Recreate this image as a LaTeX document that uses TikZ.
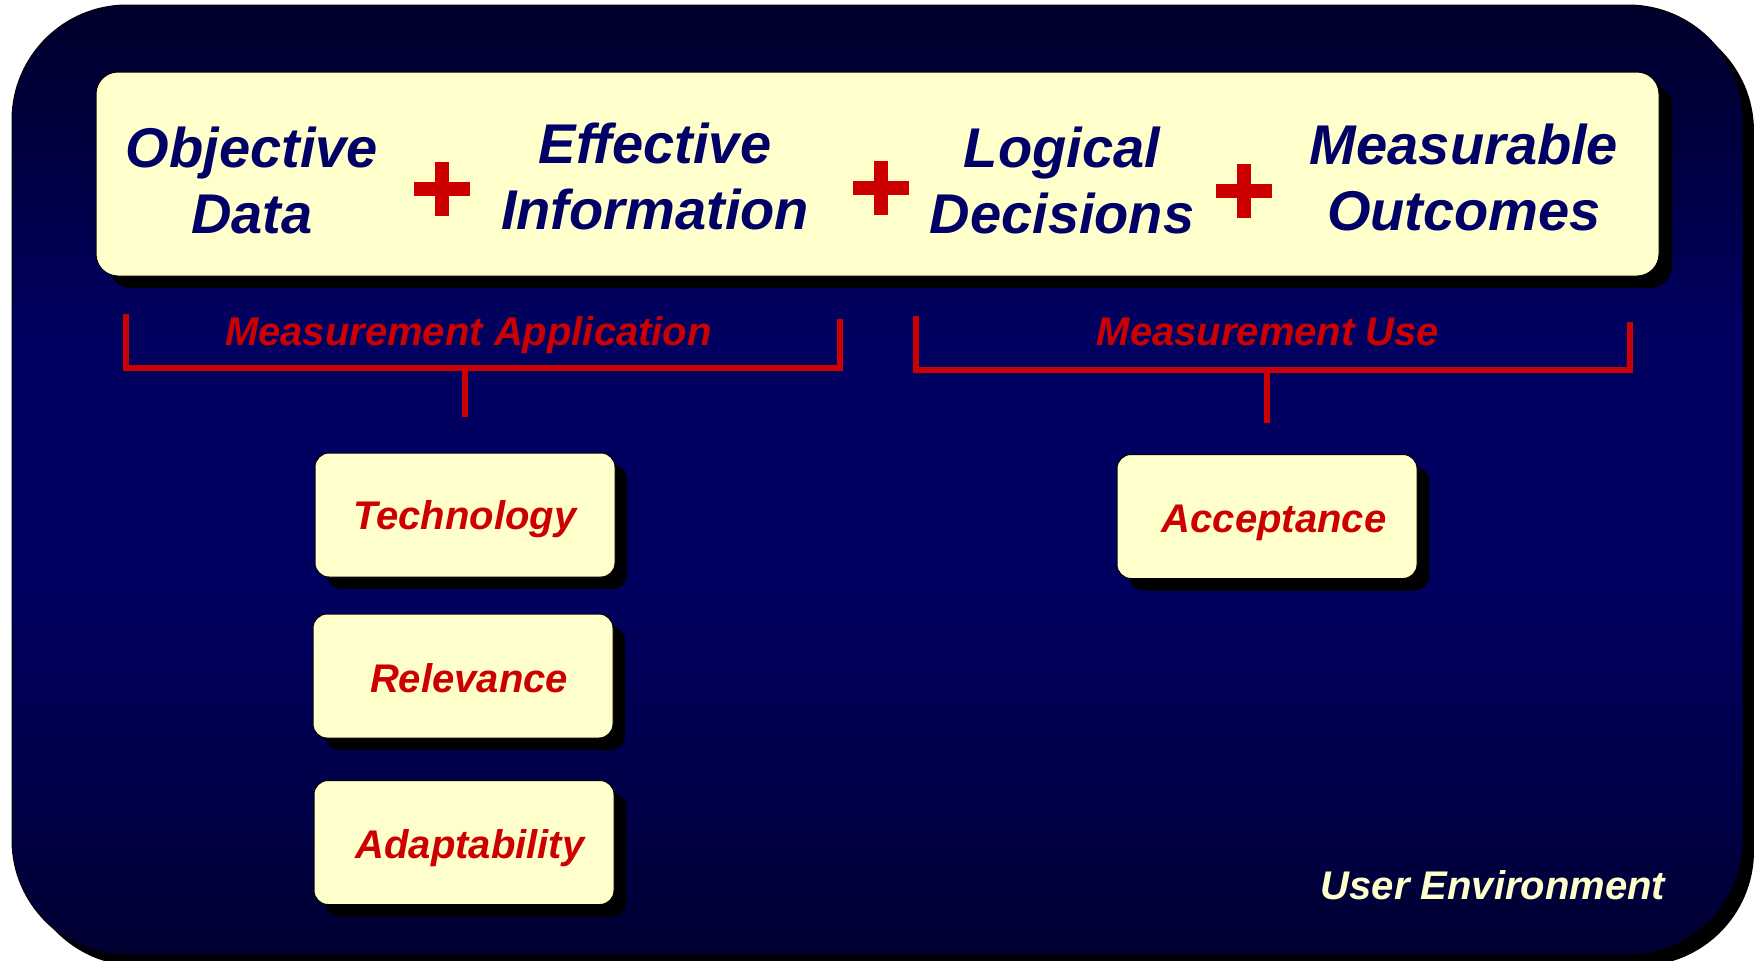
\documentclass[tikz,border=0pt]{standalone}
\usepackage{fontspec}
\setmainfont{Liberation Sans}
\usetikzlibrary{shadows}
\definecolor{navytext}{HTML}{000066}
\definecolor{redc}{HTML}{CC0000}
\definecolor{cream}{HTML}{FFFFCC}
\definecolor{bgA}{HTML}{000030}
\definecolor{bgB}{HTML}{000048}
\definecolor{bgC}{HTML}{000060}
\definecolor{bgD}{HTML}{000038}
\definecolor{bgE}{HTML}{00002C}
\pgfdeclareverticalshading{bgshade}{100bp}{color(0bp)=(bgA); color(25bp)=(bgA); color(33bp)=(bgB); color(44bp)=(bgC); color(58bp)=(bgC); color(70bp)=(bgD); color(75bp)=(bgE); color(100bp)=(bgE)}
\tikzset{
  bigtxt/.style={anchor=base, inner sep=0pt, text=navytext,
    font=\fontsize{56}{66.5}\selectfont\bfseries\itshape},
  midtxt/.style={anchor=base, inner sep=0pt, text=redc,
    font=\fontsize{40}{48}\selectfont\bfseries\itshape},
  envtxt/.style={anchor=base, inner sep=0pt, text=cream,
    font=\fontsize{40}{48}\selectfont\bfseries\itshape},
  smallbox/.style={draw=black, line width=1pt, fill=cream, rounded corners=14pt,
    minimum width=300pt, minimum height=124pt, inner sep=0pt,
    text height=29pt, text depth=0pt, text=redc,
    font=\fontsize{40}{48}\selectfont\bfseries\itshape,
    drop shadow={shadow xshift=12pt, shadow yshift=-12pt, fill=black, opacity=1}},
  bigbox/.style={draw=black, line width=1pt, fill=cream, rounded corners=22pt,
    minimum width=1563pt, minimum height=204pt, inner sep=0pt,
    drop shadow={shadow xshift=13pt, shadow yshift=-12pt, fill=black, opacity=1}},
  bracket/.style={draw=redc, line width=6pt, line join=miter},
  plussign/.pic={\fill[redc] (-28,-7) rectangle (28,7); \fill[redc] (-7,-27) rectangle (7,27);}
}
\begin{document}
\begin{tikzpicture}[x=1pt, y=-1pt]
\useasboundingbox (0,0) rectangle (1754,961);
% outer environment with shadow
\fill[black, rounded corners=115pt] (23,16) rectangle (1754,966);
\path[draw=black, line width=1pt, shading=bgshade, rounded corners=115pt] (12,5) rectangle (1743,955);

% top box
\node[bigbox] (topbox) at (877.5,174) {};
\node[bigtxt] (objdata) at (252,167) {\begin{tabular}[t]{@{}c@{}}Objective\\Data\end{tabular}};
\node[bigtxt] (effinfo) at (655,163) {\begin{tabular}[t]{@{}c@{}}Effective\\Information\end{tabular}};
\node[bigtxt] (logdec) at (1062,167) {\begin{tabular}[t]{@{}c@{}}Logical\\Decisions\end{tabular}};
\node[bigtxt] (measout) at (1464,164) {\begin{tabular}[t]{@{}c@{}}Measurable\\Outcomes\end{tabular}};
\pic (plusA) at (442,189) {plussign};
\pic (plusB) at (881,188) {plussign};
\pic (plusC) at (1244,191) {plussign};

% brackets
\coordinate (la1) at (126,314);
\coordinate (la2) at (126,368);
\coordinate (la3) at (840,368);
\coordinate (la4) at (840,319);
\coordinate (lam) at (465,368);
\coordinate (las) at (465,417);
\draw[bracket] (la1) -- (la2) -- (la3) -- (la4);
\draw[bracket] (lam) -- (las);
\node[midtxt] (mapp) at (468.5,345) {Measurement Application};

\coordinate (ra1) at (915.5,316);
\coordinate (ra2) at (915.5,370);
\coordinate (ra3) at (1629.5,370);
\coordinate (ra4) at (1629.5,322);
\coordinate (ram) at (1267,370);
\coordinate (ras) at (1267,423);
\draw[bracket] (ra1) -- (ra2) -- (ra3) -- (ra4);
\draw[bracket] (ram) -- (ras);
\node[midtxt] (muse) at (1268,345) {Measurement Use};

% small boxes
\node[smallbox] (tech) at (465,515) {Technology};
\node[smallbox, text height=32pt] (relev) at (463,676) {\hspace*{12pt}Relevance};
\node[smallbox, text height=32pt] (adapt) at (464,842.5) {\hspace*{12pt}Adaptability};
\node[smallbox, text height=31pt] (accept) at (1267,516.5) {\hspace*{14pt}Acceptance};

\node[envtxt] (userenv) at (1493,899) {User Environment};
\end{tikzpicture}
\end{document}
